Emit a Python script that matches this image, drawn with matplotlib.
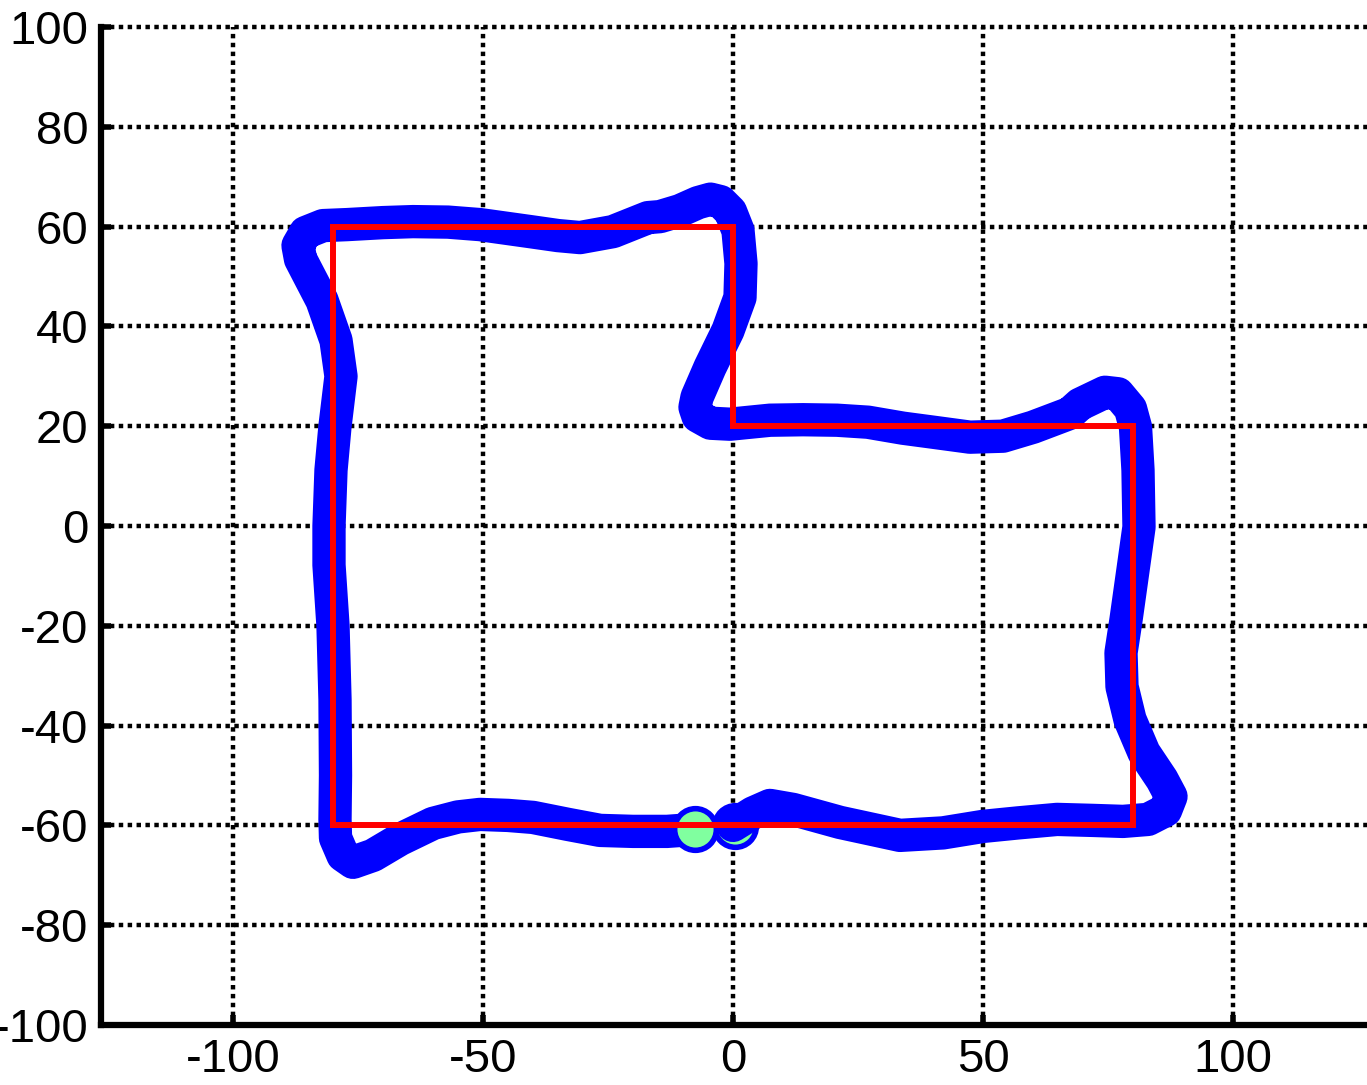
import numpy as np
import matplotlib.pyplot as plt

plt.rcParams['font.family'] = ['Liberation Sans', 'DejaVu Sans']
plt.rcParams['axes.unicode_minus'] = False

# reference route (L shape)
ref_x = [-80, -80, 0, 0, 80, 80, -80]
ref_y = [-60, 60, 60, 20, 20, -60, -60]

# measured trajectory
path_x = [0, 4, 7.4, 12, 21.4, 33.4, 42, 50, 57, 64.8, 72, 78, 83, 86.5, 87.6, 85.8,
          82.2, 79.4, 77.8, 77.6, 78.6, 80, 81.2, 81, 80.5, 79.5, 77, 74.4, 69.4, 67.4,
          60, 54, 47.4, 40, 34, 27, 20.8, 14, 7.4, -0.6, -4.5, -7, -7.6, -7.2, -4.6, -1,
          1.4, 1.6, 1, -0.5, -2.5, -4.5, -7, -10.6, -14.6, -17, -24, -30.6, -35, -40.6,
          -50.6, -57, -64, -70, -77.2, -82, -85.5, -87, -86.5, -85, -82.2, -79.4, -78.4,
          -79.6, -80.4, -80.8, -80.8, -80, -79.6, -79.5, -79.6, -79.5, -78, -76, -72,
          -66.6, -60, -55, -50.6, -45, -40, -33, -26.6, -20, -13.2, -7.6]
path_y = [-60, -57.5, -56, -56.8, -59.4, -62, -61.5, -60.2, -59.5, -58.8, -59, -59.2,
          -58.8, -57, -54.2, -50.8, -45.4, -38.8, -32.2, -25.4, -18.8, -8.8, -0.2, 11.2,
          19.8, 23.5, 26.5, 26.8, 24.4, 22.6, 19.8, 18, 17.8, 18.8, 19.6, 20.8, 21.2, 21.3,
          21.2, 20.4, 20.6, 22, 23.8, 25.8, 31.8, 39.2, 45.8, 52.6, 59.2, 63, 65, 65.5,
          64.8, 63.2, 62, 61.8, 59, 57.8, 58.2, 59, 60.4, 60.9, 61, 60.8, 60.4, 60.2, 58.8,
          56.2, 53.5, 50.6, 45.2, 37.2, 30, 20, 11.2, 0, -7.8, -20, -34.8, -50, -58.8,
          -62.5, -66, -67.4, -66, -62.8, -59.6, -58.3, -57.8, -58, -58.4, -59.8, -61,
          -61.2, -61.2, -60.8]

start_pt = (0.4, -60.2)
end_pt = (-7.6, -60.8)

xticks = [-100, -50, 0, 50, 100]
yticks = list(range(-100, 101, 20))

fig = plt.figure(figsize=(13.67, 10.85), dpi=100)
ax = fig.add_axes([101 / 1367, 60 / 1085, 1266 / 1367, 998 / 1085])

ax.plot(start_pt[0], start_pt[1], 'o', ms=30, mfc='#80ff9f', mec='#0000ff', mew=4, zorder=2)
ax.plot(path_x, path_y, color='#0000ff', lw=24, solid_joinstyle='round',
        solid_capstyle='round', zorder=3)
ax.plot(end_pt[0], end_pt[1], 'o', ms=30, mfc='#80ff9f', mec='#0000ff', mew=4, zorder=4)
ax.plot(ref_x, ref_y, color='#ff0000', lw=4.3, solid_joinstyle='miter', zorder=5)

ax.set_xlim(-126.4, 126.8)
ax.set_ylim(-100, 100)
ax.set_xticks(xticks)
ax.set_yticks(yticks)
ax.grid(True, color='black', lw=3.2, linestyle=(0, (1, 1)))
ax.set_axisbelow(True)
for gl in ax.get_xgridlines() + ax.get_ygridlines():
    gl.set_clip_on(False)

for side in ['top', 'right']:
    ax.spines[side].set_visible(False)
for side in ['left', 'bottom']:
    ax.spines[side].set_linewidth(4.5)

ax.tick_params(axis='both', direction='in', length=7, width=4, labelsize=34)
ax.tick_params(axis='x', pad=9)
ax.tick_params(axis='y', pad=9)

plt.savefig('out.png', dpi=100)
